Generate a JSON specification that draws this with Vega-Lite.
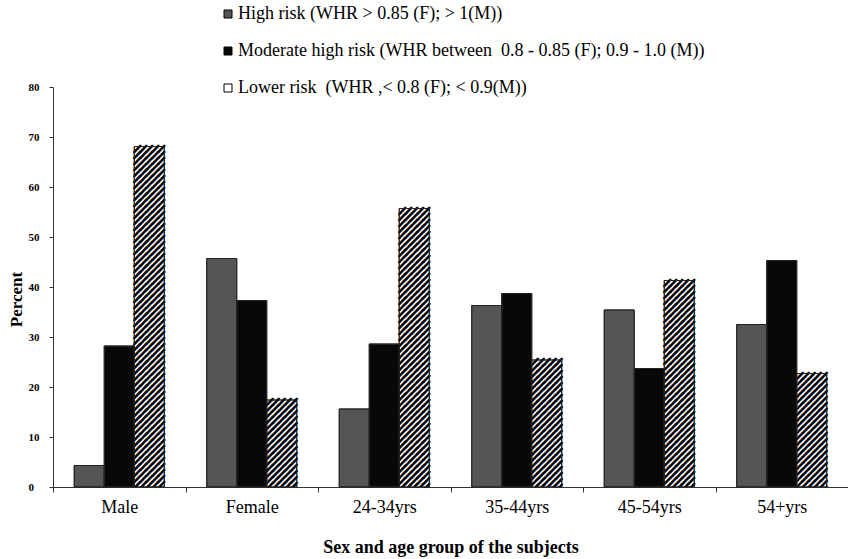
{
  "$schema": "https://vega.github.io/schema/vega-lite/v6.json",
  "width": 795,
  "height": 400,
  "autosize": {"type": "none"},
  "padding": {"left": 53, "top": 87, "right": 0, "bottom": 72},
  "background": "white",
  "config": {"view": {"stroke": null}, "font": "Liberation Serif", "legend": {"labelFont": "Liberation Serif"}},
  "data": {"values": [
    {"group": "Male", "risk": "High risk (WHR > 0.85 (F); > 1(M))", "percent": 4.3},
    {"group": "Male", "risk": "Moderate high risk (WHR between\u00a0 0.8 - 0.85 (F); 0.9 - 1.0 (M))", "percent": 28.2},
    {"group": "Male", "risk": "Lower risk\u00a0 (WHR ,< 0.8 (F); < 0.9(M))", "percent": 68.1},
    {"group": "Female", "risk": "High risk (WHR > 0.85 (F); > 1(M))", "percent": 45.7},
    {"group": "Female", "risk": "Moderate high risk (WHR between\u00a0 0.8 - 0.85 (F); 0.9 - 1.0 (M))", "percent": 37.3},
    {"group": "Female", "risk": "Lower risk\u00a0 (WHR ,< 0.8 (F); < 0.9(M))", "percent": 17.4},
    {"group": "24-34yrs", "risk": "High risk (WHR > 0.85 (F); > 1(M))", "percent": 15.6},
    {"group": "24-34yrs", "risk": "Moderate high risk (WHR between\u00a0 0.8 - 0.85 (F); 0.9 - 1.0 (M))", "percent": 28.6},
    {"group": "24-34yrs", "risk": "Lower risk\u00a0 (WHR ,< 0.8 (F); < 0.9(M))", "percent": 55.7},
    {"group": "35-44yrs", "risk": "High risk (WHR > 0.85 (F); > 1(M))", "percent": 36.3},
    {"group": "35-44yrs", "risk": "Moderate high risk (WHR between\u00a0 0.8 - 0.85 (F); 0.9 - 1.0 (M))", "percent": 38.7},
    {"group": "35-44yrs", "risk": "Lower risk\u00a0 (WHR ,< 0.8 (F); < 0.9(M))", "percent": 25.4},
    {"group": "45-54yrs", "risk": "High risk (WHR > 0.85 (F); > 1(M))", "percent": 35.4},
    {"group": "45-54yrs", "risk": "Moderate high risk (WHR between\u00a0 0.8 - 0.85 (F); 0.9 - 1.0 (M))", "percent": 23.7},
    {"group": "45-54yrs", "risk": "Lower risk\u00a0 (WHR ,< 0.8 (F); < 0.9(M))", "percent": 41.3},
    {"group": "54+yrs", "risk": "High risk (WHR > 0.85 (F); > 1(M))", "percent": 32.5},
    {"group": "54+yrs", "risk": "Moderate high risk (WHR between\u00a0 0.8 - 0.85 (F); 0.9 - 1.0 (M))", "percent": 45.3},
    {"group": "54+yrs", "risk": "Lower risk\u00a0 (WHR ,< 0.8 (F); < 0.9(M))", "percent": 22.7}
  ]},
  "encoding": {
    "x": {
      "field": "group", "type": "nominal", "sort": null,
      "scale": {"paddingInner": 0, "paddingOuter": 0},
      "axis": {
        "title": "Sex and age group of the subjects",
        "titleFont": "Liberation Serif", "titleFontSize": 18, "titleFontWeight": "bold", "titleColor": "black",
        "titlePadding": 22,
        "labelFont": "Liberation Serif", "labelFontSize": 18, "labelColor": "black", "labelAngle": 0,
        "labelPadding": 6,
        "tickBand": "extent", "tickSize": 5, "tickColor": "#333", "domainColor": "#333", "grid": false
      }
    },
    "xOffset": {
      "field": "risk", "type": "nominal",
      "scale": {"domain": [
        "High risk (WHR > 0.85 (F); > 1(M))",
        "Moderate high risk (WHR between\u00a0 0.8 - 0.85 (F); 0.9 - 1.0 (M))",
        "Lower risk\u00a0 (WHR ,< 0.8 (F); < 0.9(M))"
      ], "paddingInner": 0, "paddingOuter": 0.708}
    },
    "y": {
      "field": "percent", "type": "quantitative",
      "scale": {"domain": [0, 80], "nice": false},
      "axis": {
        "title": "Percent", "titleFont": "Liberation Serif", "titleFontSize": 17, "titleFontWeight": "bold", "titleColor": "black",
        "titleX": -37, "titleY": 212, "titleAlign": "center", "titleBaseline": "middle", "titleAngle": 270,
        "values": [0, 10, 20, 30, 40, 50, 60, 70, 80],
        "labelFont": "Liberation Serif", "labelFontSize": 11, "labelFontWeight": "bold", "labelColor": "black",
        "labelAlign": "left", "labelPadding": 21, "tickSize": 4, "tickColor": "#333", "domainColor": "#333", "grid": false
      }
    }
  },
  "layer": [
    {
      "mark": {"type": "bar", "stroke": "#333", "strokeWidth": 1},
      "encoding": {
        "color": {
          "field": "risk", "type": "nominal",
          "scale": {"domain": [
            "High risk (WHR > 0.85 (F); > 1(M))",
            "Moderate high risk (WHR between\u00a0 0.8 - 0.85 (F); 0.9 - 1.0 (M))",
            "Lower risk\u00a0 (WHR ,< 0.8 (F); < 0.9(M))"
          ], "range": ["#555555", "#080808", "#ffffff"]},
          "legend": {
            "title": null, "orient": "none", "legendX": 166, "legendY": -82, "direction": "vertical", "padding": 0,
            "symbolType": "square", "symbolSize": 64, "symbolStrokeColor": "black", "symbolStrokeWidth": 1,
            "labelFont": "Liberation Serif", "labelFontSize": 18, "labelColor": "black", "labelOffset": 1,
            "labelLimit": 700, "rowPadding": 19
          }
        }
      }
    },
    {
      "transform": [{"filter": {"field": "risk", "oneOf": ["Lower risk\u00a0 (WHR ,< 0.8 (F); < 0.9(M))"]}}],
      "mark": {"type": "text", "clip": true, "font": "Noto Sans CJK SC", "fontSize": 6, "lineHeight": 6,
        "baseline": "top", "align": "center", "dy": -1, "fill": "black", "fillOpacity": 0, "stroke": "black", "strokeWidth": 2.2,
        "text": ["╱╱╱╱╱","╱╱╱╱╱","╱╱╱╱╱","╱╱╱╱╱","╱╱╱╱╱","╱╱╱╱╱","╱╱╱╱╱","╱╱╱╱╱","╱╱╱╱╱","╱╱╱╱╱",
                 "╱╱╱╱╱","╱╱╱╱╱","╱╱╱╱╱","╱╱╱╱╱","╱╱╱╱╱","╱╱╱╱╱","╱╱╱╱╱","╱╱╱╱╱","╱╱╱╱╱","╱╱╱╱╱",
                 "╱╱╱╱╱","╱╱╱╱╱","╱╱╱╱╱","╱╱╱╱╱","╱╱╱╱╱","╱╱╱╱╱","╱╱╱╱╱","╱╱╱╱╱","╱╱╱╱╱","╱╱╱╱╱",
                 "╱╱╱╱╱","╱╱╱╱╱","╱╱╱╱╱","╱╱╱╱╱","╱╱╱╱╱","╱╱╱╱╱","╱╱╱╱╱","╱╱╱╱╱","╱╱╱╱╱","╱╱╱╱╱",
                 "╱╱╱╱╱","╱╱╱╱╱","╱╱╱╱╱","╱╱╱╱╱","╱╱╱╱╱","╱╱╱╱╱","╱╱╱╱╱","╱╱╱╱╱","╱╱╱╱╱","╱╱╱╱╱",
                 "╱╱╱╱╱","╱╱╱╱╱","╱╱╱╱╱","╱╱╱╱╱","╱╱╱╱╱","╱╱╱╱╱","╱╱╱╱╱","╱╱╱╱╱","╱╱╱╱╱","╱╱╱╱╱"]}
    },
    {
      "mark": {"type": "bar", "fill": null, "fillOpacity": 0, "stroke": "#222", "strokeWidth": 1}
    }
  ]
}
